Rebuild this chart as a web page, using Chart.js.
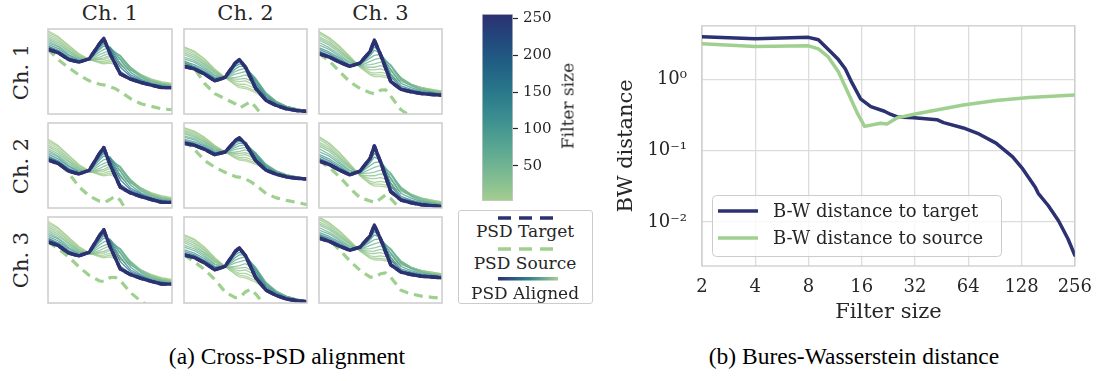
<!DOCTYPE html>
<html>
<head>
<meta charset="utf-8">
<title>Cross-PSD alignment and Bures-Wasserstein distance</title>
<script src="https://cdn.jsdelivr.net/npm/chart.js@4.4.1/dist/chart.umd.min.js"></script>
<style>
  html, body { margin: 0; padding: 0; background: #fff; }
  body { position: relative; width: 1103px; height: 381px; overflow: hidden;
         font-family: 'DejaVu Serif', 'Liberation Serif', serif; color: #262626; }
  .abs { position: absolute; }
  .lbl { position: absolute; white-space: nowrap; transform: translate(-50%, -50%); line-height: 1; }
  .lbl.rot { transform: translate(-50%, -50%) rotate(-90deg); }
  .cap { font-family: 'Liberation Serif', 'Times New Roman', serif; font-size: 23.5px; color: #000; }
  canvas { display: block; }
</style>
</head>
<body>

<div id="panels"></div>

<canvas id="cbar" class="abs" width="100" height="215" style="left:470px;top:0px"></canvas>
<div class="lbl rot" style="left:568px;top:106px;font-size:17px">Filter size</div>

<div class="abs" style="left:458px;top:210px;width:135px;height:94px;border:1px solid #cccccc;border-radius:3px;box-sizing:border-box;background:#fff">
  <svg width="133" height="92" style="position:absolute;left:0;top:0">
    <defs>
      <linearGradient id="gAligned" gradientUnits="userSpaceOnUse" x1="39" y1="0" x2="99" y2="0">
        <stop offset="0" stop-color="#2c3172"/>
        <stop offset="0.5" stop-color="#2e7f8c"/>
        <stop offset="1" stop-color="#a5cd90"/>
      </linearGradient>
    </defs>
    <line x1="39" x2="99" y1="7" y2="7" stroke="#2c3172" stroke-width="3.5" stroke-dasharray="13 8"/>
    <line x1="39" x2="99" y1="38" y2="38" stroke="#a0d08f" stroke-width="3.5" stroke-dasharray="13 8"/>
    <rect x="39" y="66" width="60" height="3.5" fill="url(#gAligned)"/>
  </svg>
  <div class="lbl" style="left:66px;top:20px;font-size:17px">PSD Target</div>
  <div class="lbl" style="left:66px;top:52px;font-size:17px">PSD Source</div>
  <div class="lbl" style="left:66px;top:82px;font-size:17px">PSD Aligned</div>
</div>

<canvas id="bw" class="abs" width="503" height="330" style="left:600px;top:0px"></canvas>

<div class="lbl cap" style="left:287px;top:357px">(a) Cross-PSD alignment</div>
<div class="lbl cap" style="left:854px;top:357px">(b) Bures-Wasserstein distance</div>

<script>
// ---------- data: small panels ----------
const channels = ['Ch. 1', 'Ch. 2', 'Ch. 3'];
const freqs = [0, 1, 2, 3, 4, 5, 5.4, 6, 7, 8, 9, 10, 11, 12];
const srcFreqs = [0, 1, 2, 3, 4, 5, 5.5, 6, 6.5, 7, 8, 9, 10, 11, 12];
const alignedFilters = [2, 4, 8, 16, 24, 32, 48, 64, 96, 128, 160, 224];

// target PSD of each column (PSD aligned at filter 256 sits on it)
const ch1Target = [0.76, 0.72, 0.64, 0.61, 0.65, 0.83, 0.89, 0.71, 0.47, 0.41, 0.37, 0.34, 0.31, 0.31];
const ch2Target = [0.56, 0.53, 0.47, 0.39, 0.43, 0.60, 0.64, 0.55, 0.30, 0.16, 0.10, 0.06, 0.04, 0.03];
const ch3Target = [0.71, 0.67, 0.61, 0.56, 0.60, 0.74, 0.87, 0.70, 0.38, 0.29, 0.26, 0.24, 0.23, 0.22];

// aligned PSDs, one row per filter size in alignedFilters
const ch1Aligned = [
  [0.98, 0.91, 0.81, 0.71, 0.64, 0.60, 0.59, 0.60, 0.57, 0.51, 0.46, 0.41, 0.38, 0.36],
  [0.96, 0.90, 0.80, 0.70, 0.64, 0.61, 0.60, 0.62, 0.59, 0.52, 0.46, 0.41, 0.37, 0.35],
  [0.94, 0.88, 0.78, 0.69, 0.64, 0.62, 0.62, 0.64, 0.61, 0.53, 0.46, 0.40, 0.37, 0.35],
  [0.92, 0.86, 0.77, 0.68, 0.63, 0.64, 0.64, 0.67, 0.64, 0.54, 0.46, 0.40, 0.36, 0.34],
  [0.90, 0.84, 0.75, 0.67, 0.63, 0.65, 0.66, 0.69, 0.66, 0.55, 0.46, 0.39, 0.36, 0.34],
  [0.88, 0.82, 0.74, 0.66, 0.63, 0.67, 0.69, 0.72, 0.68, 0.55, 0.45, 0.39, 0.35, 0.33],
  [0.86, 0.80, 0.72, 0.65, 0.63, 0.70, 0.72, 0.75, 0.69, 0.54, 0.44, 0.38, 0.35, 0.33],
  [0.84, 0.79, 0.70, 0.64, 0.64, 0.73, 0.76, 0.78, 0.68, 0.52, 0.43, 0.37, 0.34, 0.32],
  [0.82, 0.77, 0.69, 0.63, 0.64, 0.76, 0.80, 0.79, 0.64, 0.49, 0.41, 0.36, 0.33, 0.32],
  [0.80, 0.75, 0.67, 0.62, 0.65, 0.78, 0.83, 0.78, 0.59, 0.46, 0.40, 0.35, 0.33, 0.31],
  [0.79, 0.74, 0.66, 0.62, 0.65, 0.80, 0.85, 0.76, 0.55, 0.44, 0.39, 0.35, 0.32, 0.31],
  [0.77, 0.73, 0.65, 0.61, 0.65, 0.82, 0.88, 0.73, 0.50, 0.42, 0.38, 0.34, 0.32, 0.31]
];
const ch2Aligned = [
  [0.79, 0.74, 0.65, 0.53, 0.43, 0.34, 0.31, 0.30, 0.25, 0.17, 0.11, 0.07, 0.04, 0.02],
  [0.78, 0.73, 0.64, 0.52, 0.43, 0.35, 0.33, 0.32, 0.27, 0.18, 0.12, 0.07, 0.04, 0.02],
  [0.76, 0.71, 0.62, 0.51, 0.43, 0.37, 0.35, 0.35, 0.30, 0.20, 0.13, 0.08, 0.05, 0.03],
  [0.74, 0.69, 0.61, 0.50, 0.43, 0.39, 0.38, 0.39, 0.33, 0.22, 0.14, 0.08, 0.05, 0.03],
  [0.72, 0.67, 0.59, 0.49, 0.43, 0.41, 0.41, 0.42, 0.36, 0.23, 0.14, 0.09, 0.06, 0.04],
  [0.70, 0.65, 0.58, 0.48, 0.42, 0.43, 0.44, 0.46, 0.39, 0.24, 0.15, 0.09, 0.06, 0.04],
  [0.67, 0.63, 0.56, 0.46, 0.42, 0.47, 0.48, 0.50, 0.41, 0.25, 0.15, 0.09, 0.06, 0.04],
  [0.65, 0.61, 0.54, 0.45, 0.42, 0.50, 0.52, 0.54, 0.42, 0.24, 0.14, 0.09, 0.06, 0.04],
  [0.62, 0.58, 0.52, 0.43, 0.42, 0.53, 0.56, 0.56, 0.40, 0.22, 0.13, 0.08, 0.05, 0.04],
  [0.60, 0.56, 0.50, 0.42, 0.42, 0.56, 0.59, 0.57, 0.37, 0.20, 0.12, 0.07, 0.05, 0.03],
  [0.58, 0.55, 0.49, 0.41, 0.42, 0.58, 0.62, 0.57, 0.34, 0.18, 0.11, 0.07, 0.04, 0.03],
  [0.57, 0.54, 0.48, 0.40, 0.43, 0.59, 0.63, 0.56, 0.32, 0.17, 0.10, 0.06, 0.04, 0.03]
];
const ch3Aligned = [
  [0.97, 0.90, 0.80, 0.68, 0.55, 0.46, 0.44, 0.44, 0.42, 0.38, 0.34, 0.31, 0.29, 0.27],
  [0.96, 0.89, 0.79, 0.67, 0.55, 0.47, 0.46, 0.46, 0.44, 0.39, 0.34, 0.31, 0.29, 0.27],
  [0.94, 0.87, 0.77, 0.66, 0.56, 0.49, 0.48, 0.49, 0.47, 0.40, 0.35, 0.31, 0.28, 0.26],
  [0.91, 0.85, 0.75, 0.65, 0.56, 0.52, 0.52, 0.53, 0.50, 0.41, 0.35, 0.31, 0.28, 0.26],
  [0.89, 0.83, 0.74, 0.64, 0.56, 0.55, 0.55, 0.57, 0.53, 0.42, 0.35, 0.30, 0.27, 0.25],
  [0.87, 0.81, 0.72, 0.63, 0.57, 0.58, 0.59, 0.61, 0.56, 0.43, 0.35, 0.30, 0.27, 0.25],
  [0.84, 0.78, 0.70, 0.61, 0.57, 0.62, 0.64, 0.66, 0.58, 0.42, 0.34, 0.29, 0.26, 0.24],
  [0.81, 0.76, 0.68, 0.60, 0.58, 0.66, 0.69, 0.70, 0.57, 0.40, 0.33, 0.28, 0.26, 0.24],
  [0.78, 0.73, 0.66, 0.58, 0.58, 0.69, 0.75, 0.72, 0.52, 0.36, 0.31, 0.27, 0.25, 0.23],
  [0.76, 0.71, 0.64, 0.57, 0.59, 0.71, 0.79, 0.72, 0.47, 0.33, 0.29, 0.26, 0.24, 0.23],
  [0.74, 0.69, 0.63, 0.57, 0.59, 0.72, 0.82, 0.72, 0.44, 0.31, 0.28, 0.25, 0.23, 0.22],
  [0.72, 0.68, 0.62, 0.56, 0.60, 0.73, 0.85, 0.71, 0.40, 0.30, 0.27, 0.24, 0.23, 0.22]
];

// source PSD of every panel (row, column)
const source11 = [0.76, 0.64, 0.545, 0.46, 0.39, 0.35, 0.34, 0.32, 0.30, 0.26, 0.18, 0.12, 0.09, 0.06, 0.05];
const source12 = [0.62, 0.54, 0.36, 0.24, 0.18, 0.12, 0.075, 0.11, 0.145, 0.08, -0.07, -0.2, -0.3, -0.35, -0.4];
const source13 = [0.71, 0.625, 0.50, 0.38, 0.30, 0.25, 0.235, 0.28, 0.285, 0.21, 0.05, -0.03, -0.08, -0.12, -0.15];
const source21 = [0.77, 0.74, 0.62, 0.475, 0.376, 0.322, 0.309, 0.34, 0.376, 0.331, 0.142, 0.07, 0.02, -0.02, -0.05];
const source22 = [0.595, 0.47, 0.305, 0.205, 0.13, 0.066, 0.054, 0.028, -0.01, -0.06, -0.186, -0.25, -0.287, -0.317, -0.35];
const source23 = [0.71, 0.64, 0.54, 0.42, 0.315, 0.28, 0.262, 0.305, 0.346, 0.305, 0.19, 0.114, 0.07, 0.023, -0.02];
const source31 = [0.76, 0.686, 0.60, 0.494, 0.402, 0.343, 0.338, 0.379, 0.383, 0.347, 0.218, 0.126, 0.062, 0.016, -0.03];
const source32 = [0.56, 0.482, 0.395, 0.283, 0.142, 0.075, 0.087, 0.142, 0.171, 0.117, -0.024, -0.13, -0.20, -0.26, -0.31];
const source33 = [0.737, 0.684, 0.567, 0.43, 0.313, 0.228, 0.228, 0.27, 0.281, 0.228, 0.066, 0.021, -0.005, -0.02, -0.033];

// y limits of every panel
const panelYMin = [[0, 0, 0], [0.25, -0.40, 0.205], [0.108, 0.015, -0.09]];
const panelYMax = [[1, 1, 1], [1.15, 0.86, 1.115], [1.026, 0.99, 0.97]];

// colorbar
const cbarRange = [2, 256];
const cbarTicks = [50, 100, 150, 200, 250];

// ---------- data: Bures-Wasserstein distance ----------
const bwFilterTicks = [2, 4, 8, 16, 32, 64, 128, 256];
const bwYTicks = [0.01, 0.1, 1];
const bwTargetX = [2, 4, 8, 9.1, 10.7, 11.8, 12.9, 13.9, 15.8, 18, 21.5, 23.2, 25.4, 31.6, 42.5, 46.4, 60, 73.5, 91.8, 114, 130, 153, 159, 181, 207, 234, 256];
const bwTargetY = [4.0, 3.74, 3.92, 3.63, 2.44, 1.91, 1.42, 0.96, 0.53, 0.416, 0.359, 0.326, 0.298, 0.29, 0.273, 0.248, 0.209, 0.172, 0.128, 0.082, 0.0555, 0.0307, 0.0252, 0.017, 0.0104, 0.0058, 0.0034];
const bwSourceX = [2, 4, 8, 9.1, 10.3, 11.8, 13.4, 15.2, 16.6, 20.4, 22.2, 25.4, 31.6, 38.8, 60, 91.8, 141, 256];
const bwSourceY = [3.19, 2.92, 2.98, 2.70, 2.11, 1.29, 0.65, 0.326, 0.22, 0.243, 0.238, 0.29, 0.326, 0.36, 0.438, 0.507, 0.56, 0.605];

// ---------- styling ----------
const navy = '#2c3172';
const green = '#a0d08f';
const textColor = '#262626';
const crestStops = [
  [0.00, [165, 205, 144]], [0.15, [122, 185, 146]], [0.30, [86, 164, 146]],
  [0.45, [58, 141, 143]], [0.60, [40, 117, 138]], [0.75, [32, 92, 131]],
  [0.90, [36, 66, 122]], [1.00, [44, 48, 114]]
];

function crest(t, a) {
  t = Math.min(1, Math.max(0, t));
  let i = 0;
  while (i < crestStops.length - 2 && t > crestStops[i + 1][0]) i++;
  const [t0, c0] = crestStops[i];
  const [t1, c1] = crestStops[i + 1];
  const u = (t - t0) / (t1 - t0);
  const c = c0.map((v, k) => Math.round(v + (c1[k] - v) * u));
  return a === undefined ? `rgb(${c})` : `rgba(${c},${a})`;
}

function toPoints(xs, ys) {
  return xs.map((x, i) => ({ x: x, y: ys[i] }));
}

Chart.defaults.font.family = "'DejaVu Serif', 'Liberation Serif', serif";
Chart.defaults.color = textColor;

// box around a chart area
const frameOnTop = {
  id: 'frameOnTop',
  afterDraw(chart) {
    const a = chart.chartArea, c = chart.ctx;
    c.save();
    c.strokeStyle = '#cccccc';
    c.lineWidth = 1.5;
    c.strokeRect(a.left, a.top, a.right - a.left, a.bottom - a.top);
    c.restore();
  }
};
const frameBelow = {
  id: 'frameBelow',
  beforeDatasetsDraw(chart) {
    const a = chart.chartArea, c = chart.ctx;
    c.save();
    c.strokeStyle = '#cccccc';
    c.lineWidth = 1.3;
    c.strokeRect(a.left, a.top, a.right - a.left, a.bottom - a.top);
    c.restore();
  }
};

// ---------- (a) grid of panels ----------
const targets = [ch1Target, ch2Target, ch3Target];
const aligned = [ch1Aligned, ch2Aligned, ch3Aligned];
const sources = [[source11, source12, source13], [source21, source22, source23], [source31, source32, source33]];
const colBox = [[48, 172], [184, 307], [319, 442]];
const rowBox = [[29, 114], [123, 208], [217, 303]];

const host = document.getElementById('panels');

channels.forEach((name, c) => {
  const d = document.createElement('div');
  d.className = 'lbl';
  d.style.left = ((colBox[c][0] + colBox[c][1]) / 2) + 'px';
  d.style.top = '13px';
  d.style.fontSize = '21px';
  d.textContent = name;
  host.appendChild(d);
});
channels.forEach((name, r) => {
  const d = document.createElement('div');
  d.className = 'lbl rot';
  d.style.left = '21px';
  d.style.top = ((rowBox[r][0] + rowBox[r][1]) / 2) + 'px';
  d.style.fontSize = '21px';
  d.textContent = name;
  host.appendChild(d);
});

for (let r = 0; r < 3; r++) {
  for (let c = 0; c < 3; c++) {
    const cv = document.createElement('canvas');
    cv.className = 'abs';
    cv.width = colBox[c][1] - colBox[c][0] + 2;
    cv.height = rowBox[r][1] - rowBox[r][0] + 2;
    cv.style.left = (colBox[c][0] - 1) + 'px';
    cv.style.top = (rowBox[r][0] - 1) + 'px';
    host.appendChild(cv);

    // bottom-most first
    const ds = [];
    ds.push({ data: toPoints(srcFreqs, sources[r][c]), borderColor: green, borderWidth: 3.2, borderDash: [9, 6] });
    alignedFilters.forEach((f, k) => {
      ds.push({
        data: toPoints(freqs, aligned[c][k]),
        borderColor: crest((f - cbarRange[0]) / (cbarRange[1] - cbarRange[0]), 0.8),
        borderWidth: 1.3
      });
    });
    ds.push({ data: toPoints(freqs, targets[c]), borderColor: navy, borderWidth: 3.4, borderDash: [8, 4] });
    ds.push({ data: toPoints(freqs, targets[c]), borderColor: navy, borderWidth: 3.4 });
    ds.forEach((d, i) => { d.order = ds.length - i; });

    new Chart(cv, {
      type: 'line',
      data: { datasets: ds },
      options: {
        responsive: false,
        animation: false,
        events: [],
        layout: { padding: 1 },
        elements: { point: { radius: 0 }, line: { tension: 0, borderJoinStyle: 'round' } },
        plugins: { legend: { display: false }, tooltip: { enabled: false } },
        scales: {
          x: { type: 'linear', min: 0, max: 12, display: false },
          y: { type: 'linear', min: panelYMin[r][c], max: panelYMax[r][c], display: false }
        }
      },
      plugins: [frameOnTop]
    });
  }
}

// ---------- colorbar ----------
new Chart(document.getElementById('cbar'), {
  type: 'bar',
  data: {
    labels: [''],
    datasets: [{
      data: [cbarRange],
      backgroundColor: (ctx) => {
        const a = ctx.chart.chartArea;
        if (!a) return crest(0.5);
        const g = ctx.chart.ctx.createLinearGradient(0, a.bottom, 0, a.top);
        crestStops.forEach(([t, col]) => g.addColorStop(t, `rgb(${col})`));
        return g;
      },
      borderColor: '#cccccc',
      borderWidth: 1,
      borderSkipped: false,
      barPercentage: 1,
      categoryPercentage: 1
    }]
  },
  options: {
    responsive: false,
    animation: false,
    events: [],
    layout: { padding: { left: 12, top: 10, bottom: 13, right: 0 } },
    plugins: { legend: { display: false }, tooltip: { enabled: false } },
    scales: {
      x: { display: false },
      y: {
        position: 'right',
        min: cbarRange[0],
        max: cbarRange[1],
        afterBuildTicks: (s) => { s.ticks = cbarTicks.map(v => ({ value: v })); },
        afterFit: (s) => { s.width = 57; },
        ticks: { font: { size: 15 }, color: textColor, padding: 5 },
        grid: { drawOnChartArea: false, drawTicks: true, tickLength: 5, color: textColor, tickWidth: 1.2 },
        border: { display: false }
      }
    }
  }
});

// ---------- (b) Bures-Wasserstein distance ----------
const supers = { '0': '\u2070', '1': '\u00b9', '2': '\u00b2', '-': '\u207b' };
function powLabel(v) {
  const e = String(Math.round(Math.log10(v)));
  return '10' + e.split('').map(ch => supers[ch]).join('');
}

const insideLegend = {
  id: 'insideLegend',
  afterDatasetsDraw(chart) {
    const c = chart.ctx;
    c.save();
    c.beginPath();
    if (c.roundRect) c.roundRect(112.5, 195.5, 289, 61, 4);
    else c.rect(112.5, 195.5, 289, 61);
    c.fillStyle = 'rgba(255,255,255,0.8)';
    c.fill();
    c.strokeStyle = '#cccccc';
    c.lineWidth = 1;
    c.stroke();
    chart.data.datasets.forEach((d, i) => {
      const y = 211 + i * 27;
      c.beginPath();
      c.moveTo(118, y);
      c.lineTo(158, y);
      c.strokeStyle = d.borderColor;
      c.lineWidth = d.borderWidth;
      c.stroke();
      c.fillStyle = textColor;
      c.font = "18px 'DejaVu Serif', 'Liberation Serif', serif";
      c.textBaseline = 'middle';
      c.fillText(d.label, 173, y + 1);
    });
    c.restore();
  }
};

new Chart(document.getElementById('bw'), {
  type: 'line',
  data: {
    datasets: [
      { label: 'B-W distance to target', data: toPoints(bwTargetX, bwTargetY), borderColor: navy, borderWidth: 3.5, order: 1 },
      { label: 'B-W distance to source', data: toPoints(bwSourceX, bwSourceY), borderColor: green, borderWidth: 3.5, order: 0 }
    ]
  },
  options: {
    responsive: false,
    animation: false,
    events: [],
    elements: { point: { radius: 0 }, line: { tension: 0, borderJoinStyle: 'round', borderCapStyle: 'round' } },
    layout: { padding: { top: 3, right: 23, left: 0, bottom: 0 } },
    plugins: { legend: { display: false }, tooltip: { enabled: false } },
    scales: {
      x: {
        type: 'logarithmic',
        min: bwFilterTicks[0],
        max: bwFilterTicks[bwFilterTicks.length - 1],
        afterBuildTicks: (s) => { s.ticks = bwFilterTicks.map(v => ({ value: v })); },
        afterFit: (s) => { s.height = 64; },
        ticks: { callback: (v) => String(v), font: { size: 18 }, color: textColor, padding: 11, maxRotation: 0, autoSkip: false },
        grid: { color: '#dcdcdc', lineWidth: 1.3, drawTicks: false },
        border: { display: false },
        title: { display: true, text: 'Filter size', font: { size: 21 }, color: textColor, padding: { top: 0, bottom: 5 } }
      },
      y: {
        type: 'logarithmic',
        min: 0.0024,
        max: 5.7,
        afterBuildTicks: (s) => { s.ticks = bwYTicks.map(v => ({ value: v })); },
        afterFit: (s) => { s.width = 102; },
        ticks: { callback: (v) => powLabel(v), font: { size: 18 }, color: textColor, padding: 15, autoSkip: false },
        grid: { color: '#dcdcdc', lineWidth: 1.3, drawTicks: false },
        border: { display: false },
        title: { display: true, text: 'BW distance', font: { size: 21 }, color: textColor, padding: { top: 14, bottom: 0 } }
      }
    }
  },
  plugins: [frameBelow, insideLegend]
});
</script>
</body>
</html>
